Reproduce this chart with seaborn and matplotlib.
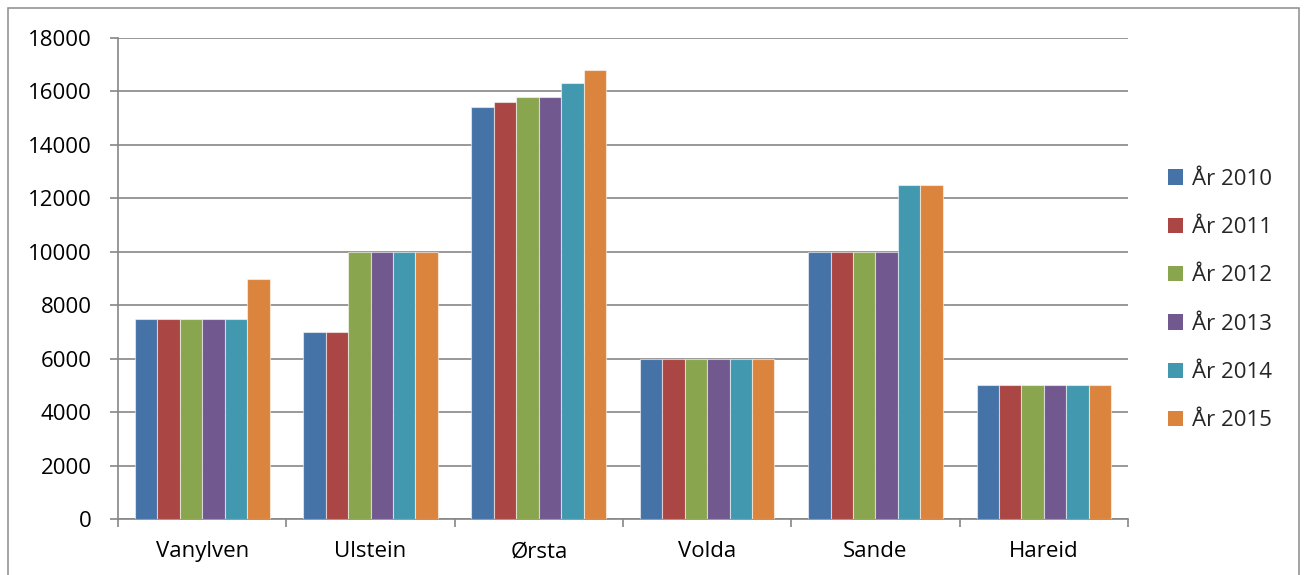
import matplotlib
matplotlib.use("Agg")
import matplotlib.pyplot as plt
import seaborn as sns
import pandas as pd
from matplotlib.patches import Rectangle, Patch

# Municipalities and yearly values
kommuner = ["Vanylven", "Ulstein", "Ørsta", "Volda", "Sande", "Hareid"]
aar = ["År 2010", "År 2011", "År 2012", "År 2013", "År 2014", "År 2015"]
v2010 = [7500, 7000, 15400, 6000, 10000, 5000]
v2011 = [7500, 7000, 15600, 6000, 10000, 5000]
v2012 = [7500, 10000, 15800, 6000, 10000, 5000]
v2013 = [7500, 10000, 15800, 6000, 10000, 5000]
v2014 = [7500, 10000, 16300, 6000, 12500, 5000]
v2015 = [9000, 10000, 16800, 6000, 12500, 5000]
farger = ["#4572A7", "#AA4643", "#89A54E", "#71588F", "#4198AF", "#DB843D"]
y_ticks = [0, 2000, 4000, 6000, 8000, 10000, 12000, 14000, 16000, 18000]

serier = [v2010, v2011, v2012, v2013, v2014, v2015]
rows = []
for navn, verdier in zip(aar, serier):
    for k, v in zip(kommuner, verdier):
        rows.append({"Kommune": k, "År": navn, "Verdi": v})
df = pd.DataFrame(rows)

sns.set_theme(style="white")
plt.rcParams["font.family"] = ["Open Sans", "DejaVu Sans"]

W, H = 1308, 575
fig = plt.figure(figsize=(W / 100, H / 100), dpi=100)
ax = fig.add_axes([118 / W, 1 - 519 / H, (1128 - 118) / W, (519 - 38) / H])

sns.barplot(data=df, x="Kommune", y="Verdi", hue="År", order=kommuner,
            hue_order=aar, palette=farger, width=0.8, saturation=1,
            edgecolor=(1, 1, 1, 0.55), linewidth=0.8, legend=False, ax=ax,
            zorder=3)

grid_c = "#868686"
ax.set_ylim(0, 18000)
ax.set_xlim(-0.5, len(kommuner) - 0.5)
ax.set_yticks(y_ticks)
ax.set_yticklabels([str(t) for t in y_ticks], fontsize=16, color="black")
ax.yaxis.grid(True, color=grid_c, linewidth=1.2, zorder=0)
ax.set_axisbelow(True)

# Category boundaries as ticks, names centred between them
ax.set_xticks([i - 0.5 for i in range(len(kommuner) + 1)])
ax.set_xticklabels([])
ax.set_xticks(range(len(kommuner)), minor=True)
ax.set_xticklabels(kommuner, minor=True, fontsize=16, color="black")
ax.tick_params(axis="x", which="major", direction="out", length=6,
               width=1.2, color=grid_c, bottom=True)
ax.tick_params(axis="x", which="minor", length=0, pad=16, bottom=True)
ax.tick_params(axis="y", direction="out", length=6, width=1.2,
               color=grid_c, left=True, pad=13)

for s in ["top", "right"]:
    ax.spines[s].set_visible(False)
for s in ["left", "bottom"]:
    ax.spines[s].set_color(grid_c)
    ax.spines[s].set_linewidth(1.2)
ax.set_xlabel("")
ax.set_ylabel("")

handles = [Patch(facecolor=c, edgecolor="none") for c in farger]
fig.legend(handles, aar, loc="center left",
           bbox_to_anchor=(1157 / W, 1 - 300 / H), frameon=False,
           fontsize=16, handlelength=0.68, handleheight=0.68,
           handletextpad=0.4, labelspacing=1.23, borderpad=0)

# Outer chart border
fig.patches.append(Rectangle((8 / W, -0.01), (1299 - 8) / W, 1 - 8 / H + 0.01,
                             transform=fig.transFigure, fill=False,
                             edgecolor="#8c8c8c", linewidth=1.1))

fig.savefig("out.png", dpi=100)
